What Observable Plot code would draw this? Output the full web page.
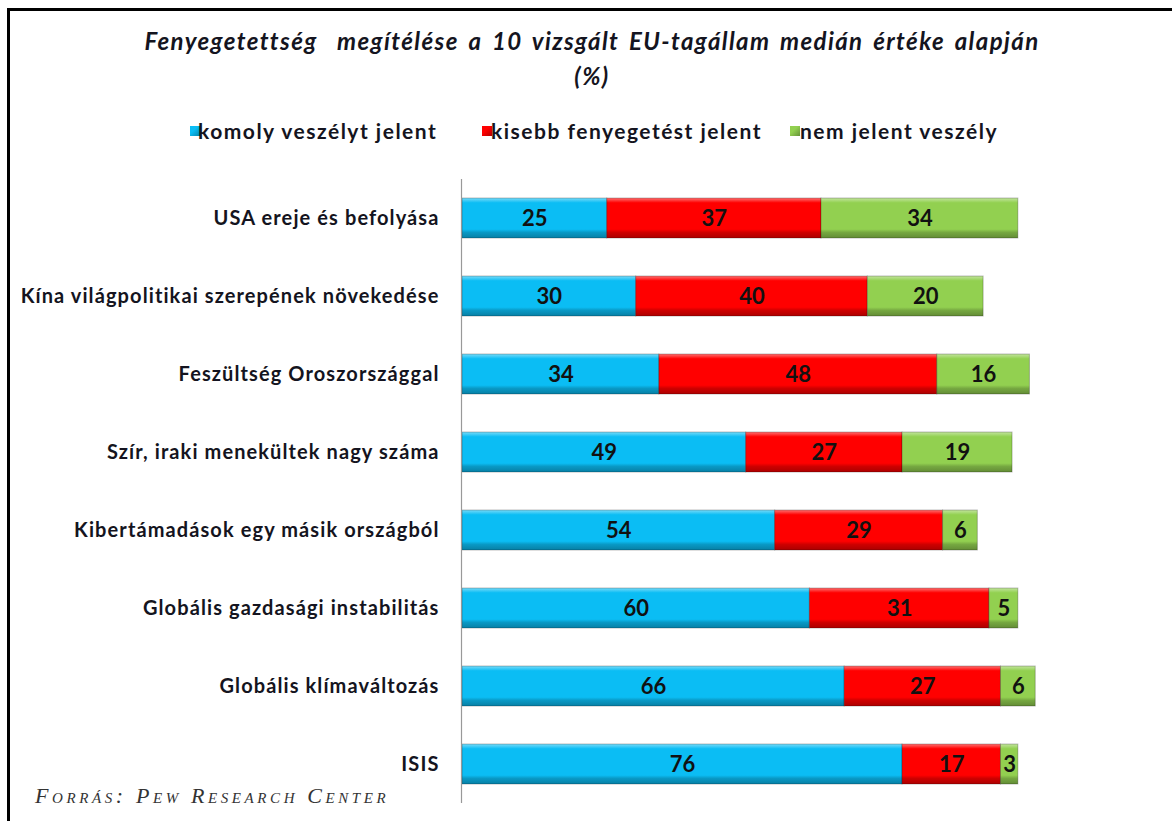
<!DOCTYPE html>
<html><head><meta charset="utf-8">
<script src="https://cdn.jsdelivr.net/npm/d3@7"></script>
<script src="https://cdn.jsdelivr.net/npm/@observablehq/plot@0.6"></script>
<style>
body{margin:0;background:#fff;font-family:Lato,"Open Sans",sans-serif;}
#wrap{position:relative;width:1172px;height:821px;overflow:hidden;background:#fff}
#frame{position:absolute;left:7px;top:8px;width:1300px;height:900px;border-left:3px solid #000;border-top:3px solid #000;}
#title{position:absolute;left:0;width:1184px;top:23px;text-align:center;font-weight:bold;font-style:italic;font-size:24px;letter-spacing:1.4px;word-spacing:3px;line-height:35px;color:#141420}
.leg{position:absolute;top:118px;font-weight:bold;font-size:21px;letter-spacing:1.5px;line-height:26px;color:#141420;white-space:nowrap}
.sw{position:absolute;top:126px;width:10px;height:10px}
#chart{position:absolute;left:0;top:160px}
#caption{position:absolute;left:35px;top:783px;font-family:"Liberation Serif","DejaVu Serif",serif;font-style:italic;font-variant:small-caps;font-size:22px;letter-spacing:3.6px;color:#333;white-space:nowrap}
#chart svg [aria-label="y-axis tick label"] text{letter-spacing:1.1px}
</style></head>
<body>
<div id="wrap">
  <div id="frame"></div>
  <div id="title"></div>
  <div id="legend"></div>
  <div id="chart"></div>
  <div id="caption"></div>
</div>
<script>
const titleLines = ["Fenyegetettség  megítélése a 10 vizsgált EU-tagállam medián értéke alapján", "(%)"];
const captionText = "Forrás: Pew Research Center";
const categories = [
  "USA ereje és befolyása",
  "Kína világpolitikai szerepének növekedése",
  "Feszültség Oroszországgal",
  "Szír, iraki menekültek nagy száma",
  "Kibertámadások egy másik országból",
  "Globális gazdasági instabilitás",
  "Globális klímaváltozás",
  "ISIS"
];
const series = ["komoly veszélyt jelent", "kisebb fenyegetést jelent", "nem jelent veszély"];
const serious = [25, 30, 34, 49, 54, 60, 66, 76];
const minor = [37, 40, 48, 27, 29, 31, 27, 17];
const noThreat = [34, 20, 16, 19, 6, 5, 6, 3];
const colors = ["#0bbdf4", "#ff0000", "#92d050"];

const values = [serious, minor, noThreat];
const rows = [];
series.forEach((s, si) => categories.forEach((c, ci) => rows.push({cat: c, series: s, value: values[si][ci]})));

document.getElementById("title").innerHTML = titleLines.map(t => `<div style="white-space:pre">${t}</div>`).join("");
document.getElementById("caption").textContent = captionText;

const legPos = [[190, 198], [482, 491], [790, 800]];
const legend = document.getElementById("legend");
series.forEach((s, i) => {
  const sw = document.createElement("div");
  sw.className = "sw";
  sw.style.left = legPos[i][0] + "px";
  sw.style.background = `linear-gradient(135deg, ${colors[i]} 40%, ${d3.color(colors[i]).darker(1)} 100%)`;
  legend.appendChild(sw);
  const t = document.createElement("div");
  t.className = "leg";
  t.style.left = legPos[i][1] + "px";
  t.textContent = s;
  legend.appendChild(t);
});

const gradIds = ["gBlue", "gRed", "gGreen"];

const plot = Plot.plot({
  width: 1172,
  height: 661,
  marginLeft: 462,
  marginRight: 131,
  marginTop: 19,
  marginBottom: 18,
  x: {domain: [0, 100], axis: null},
  y: {domain: categories, range: [19, 643], paddingInner: 0.487, paddingOuter: 0.2435, label: null},
  color: {domain: series, range: gradIds.map(g => `url(#${g})`)},
  style: {fontFamily: "Lato, 'Open Sans', sans-serif", background: "transparent"},
  marks: [
    Plot.barX(rows, Plot.stackX({x: "value", y: "cat", fill: "series", stroke: "rgba(0,0,0,0.25)", strokeWidth: 1})),
    Plot.text(rows, Plot.stackX({x: "value", y: "cat", text: d => String(d.value), fontSize: 22, fontWeight: "bold", fill: "#111"})),
    Plot.ruleX([0], {stroke: "#999", strokeWidth: 1.2, dx: -1}),
    Plot.axisY({tickSize: 0, tickPadding: 23, fontSize: 20, fontWeight: "bold", fill: "#141420", label: null})
  ]
});

const svg = d3.select(plot);
const defs = svg.insert("defs", ":first-child");
colors.forEach((c, i) => {
  const base = d3.color(c);
  const g = defs.append("linearGradient").attr("id", gradIds[i]).attr("x1", 0).attr("y1", 0).attr("x2", 0).attr("y2", 1);
  g.append("stop").attr("offset", "0%").attr("stop-color", d3.interpolateRgb(c, "#fff")(0.45));
  g.append("stop").attr("offset", "12%").attr("stop-color", c);
  g.append("stop").attr("offset", "78%").attr("stop-color", c);
  g.append("stop").attr("offset", "86%").attr("stop-color", base.darker(0.6).formatHex());
  g.append("stop").attr("offset", "100%").attr("stop-color", base.darker(1.1).formatHex());
});
document.getElementById("chart").appendChild(plot);
</script>
</body></html>
